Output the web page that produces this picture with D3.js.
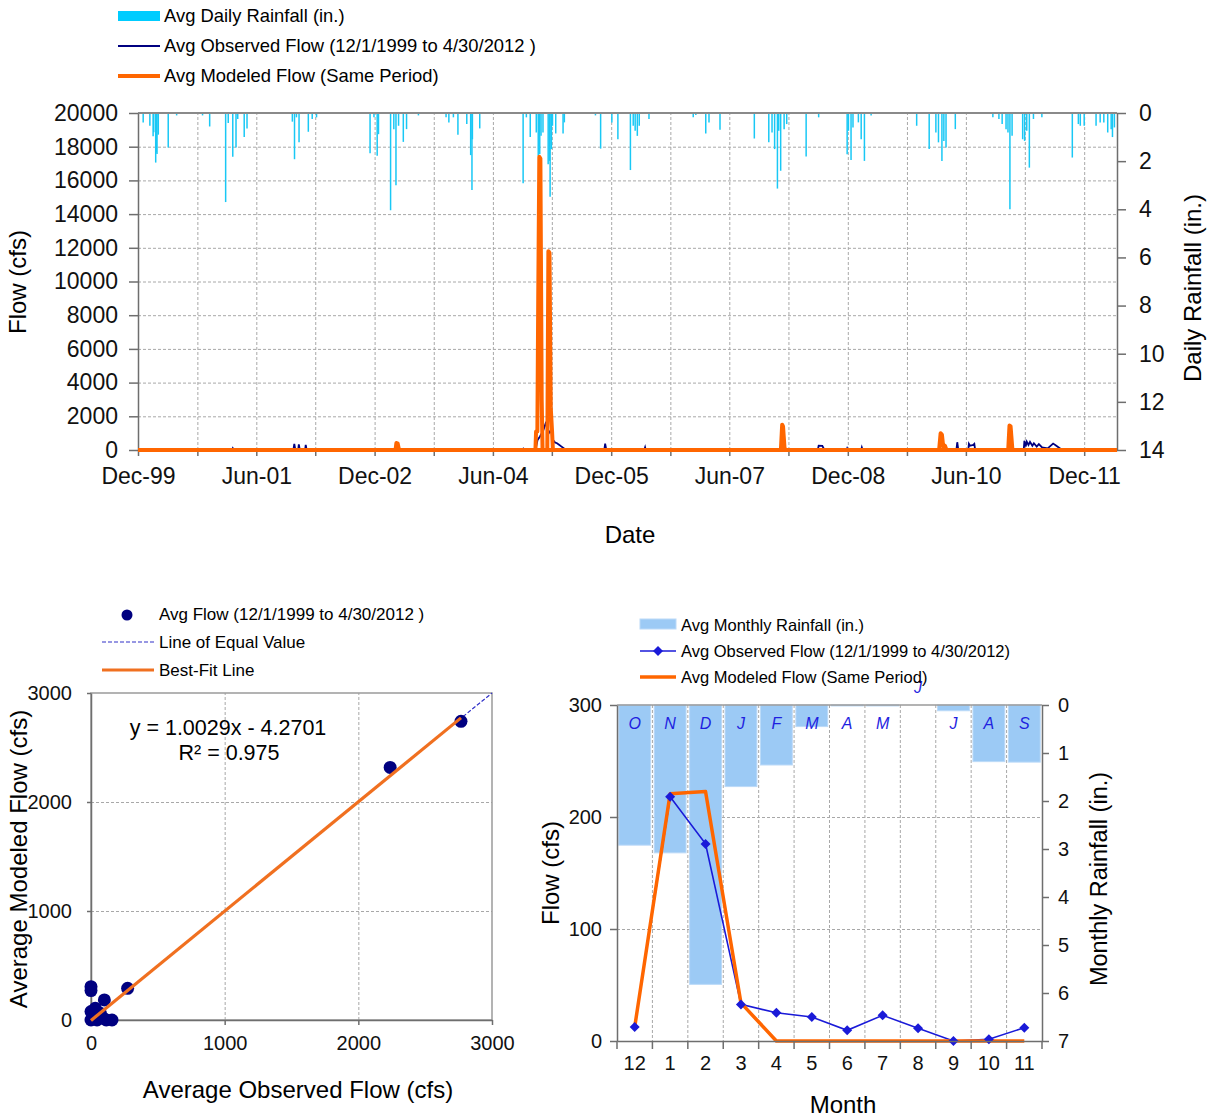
<!DOCTYPE html>
<html>
<head>
<meta charset="utf-8">
<script src="https://cdn.jsdelivr.net/npm/d3@7"></script>
<style>
body { margin: 0; background: #fff; }
svg { display: block; font-family: "Liberation Sans", Arial, sans-serif; }
.grid line { stroke: #a8a8a8; stroke-dasharray: 3,2; stroke-width: 1; }
.grid path { display: none; }
.ax path, .ax line { stroke: #6e6e6e; stroke-width: 1.5; }
.ax text { fill: #111; }
</style>
</head>
<body>
<svg id="chart" width="1212" height="1118"></svg>
<script>
// ---- top chart: daily series (only the visible events) ----
var rainDates = ["1999-12-25","2000-01-25","2000-02-09","2000-02-12","2000-02-21","2000-02-24","2000-02-27","2000-03-04","2000-04-19","2000-05-28",
  "2000-09-25","2000-10-28","2001-01-10","2001-01-22","2001-02-12","2001-02-27","2001-03-07","2001-04-06","2001-04-19","2001-11-15",
  "2001-11-25","2001-12-04","2001-12-16","2002-01-28","2002-02-15","2002-03-07","2002-11-10","2002-11-28","2002-12-13","2002-12-19",
  "2003-02-13","2003-02-28","2003-03-10","2003-03-22","2003-04-13","2003-04-28","2003-06-22","2003-10-28","2003-11-10","2003-12-01",
  "2003-12-22","2004-02-01","2004-02-19","2004-02-25","2004-02-27","2004-04-01","2004-10-19","2004-11-03","2004-11-21","2004-12-19",
  "2004-12-28","2005-01-04","2005-01-10","2005-01-19","2005-02-12","2005-02-18","2005-02-21","2005-02-27","2005-03-04","2005-03-19",
  "2005-04-22","2005-04-28","2005-09-19","2005-10-13","2005-12-04","2006-01-01","2006-02-28","2006-03-13","2006-03-22","2006-04-01",
  "2006-04-10","2006-05-25","2006-12-16","2006-12-28","2007-02-12","2007-02-27","2007-04-19","2007-09-25","2007-12-01","2007-12-16",
  "2007-12-28","2008-01-10","2008-01-16","2008-01-25","2008-02-10","2008-02-22","2008-05-22","2008-07-19","2008-11-28","2008-12-04",
  "2008-12-16","2008-12-25","2009-01-19","2009-02-01","2009-02-16","2009-03-19","2009-10-16","2009-12-13","2010-01-13","2010-01-25",
  "2010-02-10","2010-02-19","2010-03-01","2010-04-13","2010-10-04","2010-11-01","2010-11-16","2010-12-04","2010-12-13","2010-12-22",
  "2011-01-01","2011-02-19","2011-02-28","2011-03-10","2011-03-22","2011-04-10","2011-05-19","2011-10-07","2011-11-04","2011-11-13",
  "2011-12-01","2012-01-25","2012-02-13","2012-03-01","2012-03-19","2012-04-04","2012-04-10","2012-04-19"];
var rainInches = [0.39,0.53,0.97,0.8,2.06,1.64,1.7,0.9,1.43,0.1,
  0.1,0.56,3.7,0.42,1.82,1.43,0.25,1.0,0.64,0.36,
  1.92,0.18,1.22,0.78,0.25,0.18,1.67,0.18,1.78,0.88,
  4.04,0.67,3.0,0.53,1.2,0.67,0.1,0.18,0.39,0.18,
  0.9,0.46,1.75,3.2,1.09,0.64,2.92,0.18,1.0,0.81,
  1.78,1.71,0.95,0.81,2.13,1.99,3.48,1.5,0.53,0.85,
  0.85,0.39,0.1,1.48,0.39,1.09,2.37,0.53,0.74,0.95,
  0.53,0.25,0.18,0.08,0.85,0.39,0.7,1.06,1.22,0.81,
  1.5,3.14,0.74,2.4,0.67,0.46,1.81,0.18,1.71,0.74,
  1.95,0.6,0.39,1.09,1.99,0.1,0.53,1.5,0.81,1.22,
  1.99,1.16,1.43,0.67,0.18,0.25,0.46,0.67,0.81,4.0,
  0.95,1.09,1.16,0.74,2.27,0.25,0.18,1.85,0.46,0.53,
  0.53,0.53,0.39,0.39,0.81,0.67,1.0,0.6];

var modeledDates = ["1999-12-01","2003-03-08","2003-03-12","2003-03-18","2003-03-24","2004-12-15","2004-12-18","2004-12-24","2004-12-28","2005-01-02",
  "2005-01-07","2005-01-13","2005-01-17","2005-02-08","2005-02-13","2005-02-18","2005-02-24","2005-03-02","2005-03-06","2008-01-26",
  "2008-02-01","2008-02-05","2008-02-12","2008-02-18","2010-01-28","2010-02-04","2010-02-10","2010-02-16","2010-02-24","2010-03-03",
  "2010-12-14","2010-12-20","2010-12-25","2011-01-02","2011-01-06","2012-04-30"];
var modeledFlow = [0,0,420,380,0,0,1100,1100,9000,17400,
  17300,3000,0,0,11800,11700,2500,1100,0,0,
  1500,1400,100,0,0,1000,900,200,250,0,
  0,1450,1400,100,0,0];

var observedDates = ["1999-12-01","2001-02-08","2001-02-12","2001-02-16","2001-11-20","2001-11-24","2001-11-28","2001-12-12","2001-12-15","2001-12-19",
  "2002-01-13","2002-01-16","2002-01-20","2004-10-18","2004-10-20","2004-10-23","2004-12-15","2004-12-25","2005-01-05","2005-01-20",
  "2005-02-03","2005-02-10","2005-02-25","2005-03-06","2005-03-15","2005-03-25","2005-04-05","2005-04-15","2005-04-25","2005-05-05",
  "2005-10-30","2005-11-03","2005-11-07","2005-11-10","2006-05-03","2006-05-07","2006-05-10","2008-07-15","2008-07-19","2008-08-05",
  "2008-08-15","2008-11-25","2008-11-28","2008-12-02","2009-02-01","2009-02-04","2009-02-08","2010-04-18","2010-04-22","2010-04-26",
  "2010-04-30","2010-06-12","2010-06-15","2010-06-20","2010-07-05","2010-07-10","2010-07-14","2011-02-24","2011-02-27","2011-03-05",
  "2011-03-10","2011-03-18","2011-03-25","2011-04-05","2011-04-12","2011-04-25","2011-05-05","2011-05-20","2011-06-15","2011-07-10",
  "2011-07-20","2011-08-10","2011-08-20","2012-04-30"];
var observedFlow = [0,0,100,0,0,360,60,0,330,50,
  0,300,0,0,60,0,0,600,800,1150,
  1680,900,1200,600,450,400,300,200,100,0,
  0,380,100,0,0,160,0,0,260,250,
  0,0,100,0,0,150,0,0,460,100,
  0,0,360,250,300,360,0,0,550,200,
  500,300,480,250,400,200,350,150,100,380,
  300,100,0,0];

var flowTicks = [0,2000,4000,6000,8000,10000,12000,14000,16000,18000,20000];
var rainTicks = [0,2,4,6,8,10,12,14];

// ---- bottom left: scatter ----
var scatterObserved = [0,0,2768,2238,274,100,0,32,70,0,45,114,157,88];
var scatterModeled = [306,270,2740,2317,291,184,77,107,61,0,0,0,0,20];
var fitSlope = 1.0029, fitIntercept = -4.2701;
var scatterTicks = [0,1000,2000,3000];

// ---- bottom right: monthly ----
var months = ["12","1","2","3","4","5","6","7","8","9","10","11"];
var monthLetters = ["O","N","D","J","F","M","A","M","J","J","A","S"];
var monthlyRain = [2.92,3.08,5.82,1.70,1.25,0.45,0.02,0.02,0,0.12,1.18,1.19];
var monthlyObserved = [12.5,218,176,32.7,25.2,21.4,9.5,22.9,11.3,0,1.5,11.9];
var monthlyModeled = [12.5,220.7,222.8,34,0,0,0,0,0,0,0,0];
var monthFlowTicks = [0,100,200,300];
var monthRainTicks = [0,1,2,3,4,5,6,7];

var parse = d3.timeParse("%Y-%m-%d");
var plain = d3.format("d");
var svg = d3.select("#chart");

var CYAN = "#19c8f5", NAVY = "#000080", ORANGE = "#ff6600", BLUE = "#1a1ad8";

// ================= TOP CHART =================
var tLeft = 138, tRight = 1117, tTop = 113, tBottom = 450;
var start = new Date(1999, 11, 1);
var x = d3.scaleTime().domain([start, new Date(2012, 4, 1)]).range([tLeft, tRight]);
var yFlow = d3.scaleLinear().domain([0, 20000]).range([tBottom, tTop]);
var yRain = d3.scaleLinear().domain([0, 14]).range([tTop, tBottom]);

// 9-month gridline ticks, label every other one
var dateTicks = d3.range(0, 17).map(function(i) { return d3.timeMonth.offset(start, i * 9); });
var fmt = d3.timeFormat("%b-%y");

var topG = svg.append("g");
topG.append("g").attr("class", "grid")
  .attr("transform", "translate(0," + tBottom + ")")
  .call(d3.axisBottom(x).tickValues(dateTicks.slice(1)).tickSize(-(tBottom - tTop)).tickFormat(""));
topG.append("g").attr("class", "grid")
  .attr("transform", "translate(" + tLeft + ",0)")
  .call(d3.axisLeft(yFlow).tickValues(flowTicks.slice(1, -1)).tickSize(-(tRight - tLeft)).tickFormat(""));

// rainfall hanging from the top
topG.append("g").selectAll("line")
  .data(rainDates.map(function(d, i) { return {date: parse(d), v: rainInches[i]}; }))
  .enter().append("line")
  .attr("x1", function(d) { return x(d.date); })
  .attr("x2", function(d) { return x(d.date); })
  .attr("y1", yRain(0))
  .attr("y2", function(d) { return yRain(d.v); })
  .attr("stroke", CYAN).attr("stroke-width", 1.5);

var flowLine = d3.line().x(function(d) { return x(d.date); }).y(function(d) { return yFlow(d.v); });
topG.append("path")
  .datum(observedDates.map(function(d, i) { return {date: parse(d), v: observedFlow[i]}; }))
  .attr("d", flowLine).attr("fill", "none").attr("stroke", NAVY).attr("stroke-width", 1.8);
topG.append("path")
  .datum(modeledDates.map(function(d, i) { return {date: parse(d), v: modeledFlow[i]}; }))
  .attr("d", flowLine).attr("fill", "none").attr("stroke", ORANGE).attr("stroke-width", 4)
  .attr("stroke-linejoin", "round");

// frame top
topG.append("line").attr("x1", tLeft).attr("x2", tRight).attr("y1", tTop).attr("y2", tTop)
  .attr("stroke", "#8a8a8a").attr("stroke-width", 2);

var axL = topG.append("g").attr("class", "ax").attr("transform", "translate(" + tLeft + ",0)")
  .call(d3.axisLeft(yFlow).tickValues(flowTicks).tickFormat(plain).tickSize(9).tickPadding(11).tickSizeOuter(0));
axL.selectAll("text").style("font-size", "23px");
var axR = topG.append("g").attr("class", "ax").attr("transform", "translate(" + tRight + ",0)")
  .call(d3.axisRight(yRain).tickValues(rainTicks).tickFormat(plain).tickSize(9).tickPadding(13).tickSizeOuter(0));
axR.selectAll("text").style("font-size", "23px");
var axB = topG.append("g").attr("class", "ax").attr("transform", "translate(0," + tBottom + ")")
  .call(d3.axisBottom(x).tickValues(dateTicks).tickSize(6).tickPadding(12).tickSizeOuter(0)
    .tickFormat(function(d, i) { return i % 2 === 0 ? fmt(d) : ""; }));
axB.selectAll("text").style("font-size", "23px");
axB.select("path").attr("stroke", "none");
// modeled baseline sits on the axis line like the original
topG.append("line").attr("x1", tLeft).attr("x2", tRight).attr("y1", tBottom).attr("y2", tBottom)
  .attr("stroke", ORANGE).attr("stroke-width", 4);

topG.append("text").attr("transform", "translate(18,282) rotate(-90)")
  .attr("text-anchor", "middle").attr("dy", "0.35em").style("font-size", "24px").text("Flow (cfs)");
topG.append("text").attr("transform", "translate(1193,288) rotate(-90)")
  .attr("text-anchor", "middle").attr("dy", "0.35em").style("font-size", "24px").text("Daily Rainfall (in.)");
topG.append("text").attr("x", 630).attr("y", 535).attr("text-anchor", "middle").attr("dy", "0.35em")
  .style("font-size", "24px").text("Date");

// legend
var topLeg = topG.append("g").style("font-size", "18.4px");
topLeg.append("rect").attr("x", 118).attr("y", 11).attr("width", 42).attr("height", 10).attr("fill", "#00ccff");
topLeg.append("line").attr("x1", 118).attr("x2", 160).attr("y1", 46).attr("y2", 46).attr("stroke", NAVY).attr("stroke-width", 1.8);
topLeg.append("line").attr("x1", 118).attr("x2", 160).attr("y1", 76).attr("y2", 76).attr("stroke", ORANGE).attr("stroke-width", 4);
["Avg Daily Rainfall (in.)", "Avg Observed Flow (12/1/1999 to 4/30/2012 )", "Avg Modeled Flow (Same Period)"]
  .forEach(function(t, i) {
    topLeg.append("text").attr("x", 164).attr("y", 16 + i * 30).attr("dy", "0.35em").text(t);
  });

// ================= SCATTER =================
var sL = 91, sR = 492, sT = 693, sB = 1020;
var xs = d3.scaleLinear().domain([0, 3000]).range([sL, sR]);
var ys = d3.scaleLinear().domain([0, 3000]).range([sB, sT]);
var sc = svg.append("g");
sc.append("g").attr("class", "grid").attr("transform", "translate(0," + sB + ")")
  .call(d3.axisBottom(xs).tickValues([1000, 2000]).tickSize(-(sB - sT)).tickFormat(""));
sc.append("g").attr("class", "grid").attr("transform", "translate(" + sL + ",0)")
  .call(d3.axisLeft(ys).tickValues([1000, 2000]).tickSize(-(sR - sL)).tickFormat(""));
sc.append("rect").attr("x", sL).attr("y", sT).attr("width", sR - sL).attr("height", sB - sT)
  .attr("fill", "none").attr("stroke", "#9a9a9a").attr("stroke-width", 1.5);

var sx = sc.append("g").attr("class", "ax").attr("transform", "translate(0," + sB + ")")
  .call(d3.axisBottom(xs).tickValues(scatterTicks).tickFormat(plain).tickSize(5).tickPadding(11).tickSizeOuter(0));
sx.selectAll("text").style("font-size", "20px");
var sy = sc.append("g").attr("class", "ax").attr("transform", "translate(" + sL + ",0)")
  .call(d3.axisLeft(ys).tickValues(scatterTicks).tickFormat(plain).tickSize(4).tickPadding(15).tickSizeOuter(0));
sy.selectAll("text").style("font-size", "20px");

sc.append("line").attr("x1", xs(0)).attr("y1", ys(0)).attr("x2", xs(3000)).attr("y2", ys(3000))
  .attr("stroke", "#3030c8").attr("stroke-width", 1.2).attr("stroke-dasharray", "4,2");
sc.selectAll("circle.pt")
  .data(scatterObserved.map(function(v, i) { return [v, scatterModeled[i]]; }))
  .enter().append("circle").attr("class", "pt")
  .attr("cx", function(d) { return xs(d[0]); })
  .attr("cy", function(d) { return ys(d[1]); })
  .attr("r", 6.5).attr("fill", NAVY);
var fitMax = d3.max(scatterObserved);
sc.append("line")
  .attr("x1", xs(0)).attr("y1", ys(fitIntercept))
  .attr("x2", xs(fitMax)).attr("y2", ys(fitSlope * fitMax + fitIntercept))
  .attr("stroke", "#f07020").attr("stroke-width", 3.2);

sc.append("text").attr("x", 228).attr("y", 727).attr("text-anchor", "middle").attr("dy", "0.35em")
  .style("font-size", "21.5px").text("y = 1.0029x  - 4.2701");
sc.append("text").attr("x", 229).attr("y", 752).attr("text-anchor", "middle").attr("dy", "0.35em")
  .style("font-size", "21.5px").text("R\u00b2 = 0.975");

sc.append("text").attr("x", 298).attr("y", 1090).attr("text-anchor", "middle").attr("dy", "0.35em")
  .style("font-size", "24px").text("Average Observed Flow (cfs)");
sc.append("text").attr("transform", "translate(19,859) rotate(-90)")
  .attr("text-anchor", "middle").attr("dy", "0.35em").style("font-size", "24px").text("Average Modeled Flow (cfs)");

var sLeg = sc.append("g").style("font-size", "17px");
sLeg.append("circle").attr("cx", 127).attr("cy", 615).attr("r", 5.5).attr("fill", NAVY);
sLeg.append("line").attr("x1", 102).attr("x2", 154).attr("y1", 642).attr("y2", 642)
  .attr("stroke", "#3030c8").attr("stroke-width", 1.2).attr("stroke-dasharray", "4,2");
sLeg.append("line").attr("x1", 102).attr("x2", 154).attr("y1", 670).attr("y2", 670)
  .attr("stroke", "#f07020").attr("stroke-width", 3.2);
["Avg Flow (12/1/1999 to 4/30/2012 )", "Line of Equal Value", "Best-Fit Line"].forEach(function(t, i) {
  sLeg.append("text").attr("x", 159).attr("y", 614 + i * 28).attr("dy", "0.35em").text(t);
});

// ================= MONTHLY =================
var mL = 617, mR = 1042, mT = 705, mB = 1041;
var xm = d3.scaleBand().domain(months).range([mL, mR]).paddingInner(0.1).paddingOuter(0.05);
var ymF = d3.scaleLinear().domain([0, 300]).range([mB, mT]);
var ymR = d3.scaleLinear().domain([0, 7]).range([mT, mB]);
var step = xm.step();
var mg = svg.append("g");

mg.append("g").attr("class", "grid").selectAll("line")
  .data(d3.range(1, 12)).enter().append("line")
  .attr("x1", function(i) { return mL + i * step; }).attr("x2", function(i) { return mL + i * step; })
  .attr("y1", mT).attr("y2", mB);
mg.append("g").attr("class", "grid").attr("transform", "translate(" + mL + ",0)")
  .call(d3.axisLeft(ymF).tickValues([100, 200]).tickSize(-(mR - mL)).tickFormat(""));

mg.append("g").selectAll("rect")
  .data(months).enter().append("rect")
  .attr("x", function(m) { return xm(m); })
  .attr("y", ymR(0))
  .attr("width", xm.bandwidth())
  .attr("height", function(m, i) { return ymR(monthlyRain[i]) - ymR(0); })
  .attr("fill", "#9ccaf5").attr("stroke", "#bcdaf8").attr("stroke-width", 1);

// month letters; the empty bar's letter ends up above the plot as in the original
mg.append("g").selectAll("text")
  .data(months).enter().append("text")
  .attr("x", function(m) { return xm(m) + xm.bandwidth() / 2; })
  .attr("y", function(m, i) { return monthlyRain[i] > 0 ? mT + 18 : mT - 18; })
  .attr("text-anchor", "middle").attr("dy", "0.35em")
  .style("font-size", "16px").style("font-style", "italic").attr("fill", "#1f1fe0")
  .text(function(m, i) { return monthLetters[i]; });

mg.append("line").attr("x1", mL).attr("x2", mR).attr("y1", mT).attr("y2", mT)
  .attr("stroke", "#9a9a9a").attr("stroke-width", 1.5);

var cx = function(m) { return xm(m) + xm.bandwidth() / 2; };
mg.append("path")
  .datum(months.map(function(m, i) { return [cx(m), ymF(monthlyObserved[i])]; }))
  .attr("d", d3.line()).attr("fill", "none").attr("stroke", BLUE).attr("stroke-width", 1.6);
mg.append("path")
  .datum(months.map(function(m, i) { return [cx(m), ymF(monthlyModeled[i])]; }))
  .attr("d", d3.line()).attr("fill", "none").attr("stroke", ORANGE).attr("stroke-width", 3.5)
  .attr("stroke-linejoin", "round");
var diamond = d3.symbol().type(d3.symbolSquare).size(50);
mg.append("g").selectAll("path")
  .data(months).enter().append("path")
  .attr("d", diamond)
  .attr("transform", function(m, i) { return "translate(" + cx(m) + "," + ymF(monthlyObserved[i]) + ") rotate(45)"; })
  .attr("fill", BLUE);

var mx = mg.append("g").attr("class", "ax").attr("transform", "translate(0," + mB + ")")
  .call(d3.axisBottom(xm).tickSize(0).tickPadding(15).tickSizeOuter(0));
mx.selectAll("text").style("font-size", "20px");
mg.append("g").attr("class", "ax").selectAll("line")
  .data(d3.range(0, 13)).enter().append("line")
  .attr("x1", function(i) { return mL + i * step; }).attr("x2", function(i) { return mL + i * step; })
  .attr("y1", mB).attr("y2", mB + 8);
var myL = mg.append("g").attr("class", "ax").attr("transform", "translate(" + mL + ",0)")
  .call(d3.axisLeft(ymF).tickValues(monthFlowTicks).tickFormat(plain).tickSize(7).tickPadding(8).tickSizeOuter(0));
myL.selectAll("text").style("font-size", "20px");
var myR = mg.append("g").attr("class", "ax").attr("transform", "translate(" + mR + ",0)")
  .call(d3.axisRight(ymR).tickValues(monthRainTicks).tickFormat(plain).tickSize(7).tickPadding(9).tickSizeOuter(0));
myR.selectAll("text").style("font-size", "20px");

mg.append("text").attr("transform", "translate(551,873) rotate(-90)")
  .attr("text-anchor", "middle").attr("dy", "0.35em").style("font-size", "24px").text("Flow (cfs)");
mg.append("text").attr("transform", "translate(1099,879) rotate(-90)")
  .attr("text-anchor", "middle").attr("dy", "0.35em").style("font-size", "23.5px").text("Monthly Rainfall (in.)");
mg.append("text").attr("x", 843).attr("y", 1105).attr("text-anchor", "middle").attr("dy", "0.35em")
  .style("font-size", "24px").text("Month");

var mLeg = mg.append("g").style("font-size", "16.5px");
mLeg.append("rect").attr("x", 640).attr("y", 619).attr("width", 36).attr("height", 10)
  .attr("fill", "#9ccaf5").attr("stroke", "#bcdaf8");
mLeg.append("line").attr("x1", 640).attr("x2", 676).attr("y1", 651).attr("y2", 651).attr("stroke", BLUE).attr("stroke-width", 1.6);
mLeg.append("path").attr("d", diamond).attr("transform", "translate(658,651) rotate(45)").attr("fill", BLUE);
mLeg.append("line").attr("x1", 640).attr("x2", 676).attr("y1", 677).attr("y2", 677).attr("stroke", ORANGE).attr("stroke-width", 3.5);
["Avg Monthly Rainfall (in.)", "Avg Observed Flow (12/1/1999 to 4/30/2012)", "Avg Modeled Flow (Same Period)"]
  .forEach(function(t, i) {
    mLeg.append("text").attr("x", 681).attr("y", 625 + i * 26).attr("dy", "0.35em").text(t);
  });
</script>
</body>
</html>
